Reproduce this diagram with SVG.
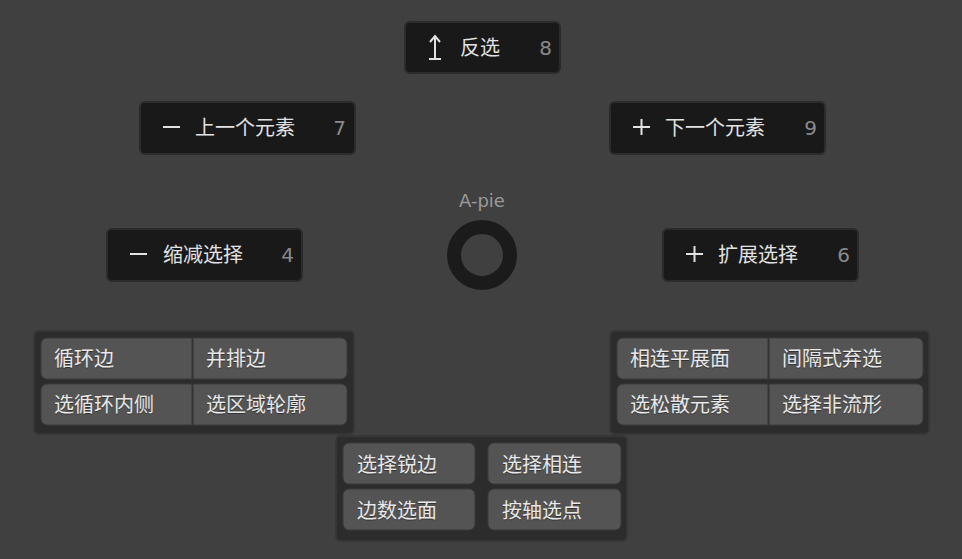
<svg xmlns="http://www.w3.org/2000/svg" width="962" height="559" viewBox="0 0 962 559">
<defs>
<style>
.bg{fill:#404040}
.pb{fill:#191919;stroke:#2b2b2b;stroke-width:2}
.lbl{font-family:"DejaVu Sans","Noto Sans CJK SC",sans-serif;font-size:20px;fill:#e2e2e2}
.num{font-family:"DejaVu Sans","Noto Sans CJK SC",sans-serif;font-size:20px;fill:#8a8a8a;text-anchor:end}
.ico{stroke:#e2e2e2;stroke-width:2;fill:none}
.panel{fill:#2c2c2c;stroke:#363636;stroke-width:2}
.btn{fill:#545454;stroke:#3a3a3a;stroke-width:1}
.sep{stroke:#333;stroke-width:2}
.bt{font-family:"DejaVu Sans","Noto Sans CJK SC",sans-serif;font-size:20px;fill:#e8e8e8}
.sh{font-family:"DejaVu Sans","Noto Sans CJK SC",sans-serif;font-size:20px;fill:#1c1c1c;opacity:.6}
</style>
</defs>
<rect class="bg" x="0" y="0" width="962" height="559"/>
<g id="connectors"/>

<g id="center">
<text x="482" y="207" text-anchor="middle" style="font-family:'DejaVu Sans',sans-serif;font-size:18px;fill:#9a9a9a">A-pie</text>
<circle cx="482" cy="255" r="28" fill="none" stroke="#1b1b1b" stroke-width="14"/>
</g>

<g id="n-invert">
<rect class="pb" x="405" y="22" width="155" height="51" rx="5"/>
<path class="ico" d="M435 37 V59 M429 59 H441 M430 42 L435 36 L440 42"/>
<text class="lbl" x="460" y="55">反选</text>
<text class="num" x="552" y="55">8</text>
</g>

<g id="n-prev">
<rect class="pb" x="140" y="102" width="215" height="52" rx="5"/>
<path class="ico" d="M163 127 H180"/>
<text class="lbl" x="195" y="135">上一个元素</text>
<text class="num" x="346" y="135">7</text>
</g>

<g id="n-next">
<rect class="pb" x="610" y="102" width="215" height="52" rx="5"/>
<path class="ico" d="M633 127 H650 M641.5 119 V135"/>
<text class="lbl" x="665" y="135">下一个元素</text>
<text class="num" x="817" y="135">9</text>
</g>

<g id="n-shrink">
<rect class="pb" x="107" y="229" width="195" height="52" rx="5"/>
<path class="ico" d="M130 254 H147"/>
<text class="lbl" x="163" y="262">缩减选择</text>
<text class="num" x="294" y="262">4</text>
</g>

<g id="n-grow">
<rect class="pb" x="663" y="229" width="195" height="52" rx="5"/>
<path class="ico" d="M686 254 H703 M694.5 246 V262"/>
<text class="lbl" x="718" y="262">扩展选择</text>
<text class="num" x="850" y="262">6</text>
</g>

<g id="n-left-panel">
<rect class="panel" x="34" y="331" width="320" height="103" rx="5"/>
<rect class="btn" x="41" y="338" width="306" height="41" rx="6"/>
<rect class="btn" x="41" y="384" width="306" height="41" rx="6"/>
<line class="sep" x1="192.5" y1="338" x2="192.5" y2="379"/>
<line class="sep" x1="192.5" y1="384" x2="192.5" y2="425"/>
<text class="sh" x="54" y="367">循环边</text><text class="bt" x="54" y="366">循环边</text>
<text class="sh" x="206" y="367">并排边</text><text class="bt" x="206" y="366">并排边</text>
<text class="sh" x="54" y="413">选循环内侧</text><text class="bt" x="54" y="412">选循环内侧</text>
<text class="sh" x="206" y="413">选区域轮廓</text><text class="bt" x="206" y="412">选区域轮廓</text>
</g>

<g id="n-right-panel">
<rect class="panel" x="610" y="331" width="319" height="103" rx="5"/>
<rect class="btn" x="617" y="338" width="306" height="41" rx="6"/>
<rect class="btn" x="617" y="384" width="306" height="41" rx="6"/>
<line class="sep" x1="768.5" y1="338" x2="768.5" y2="379"/>
<line class="sep" x1="768.5" y1="384" x2="768.5" y2="425"/>
<text class="sh" x="630" y="367">相连平展面</text><text class="bt" x="630" y="366">相连平展面</text>
<text class="sh" x="782" y="367">间隔式弃选</text><text class="bt" x="782" y="366">间隔式弃选</text>
<text class="sh" x="630" y="413">选松散元素</text><text class="bt" x="630" y="412">选松散元素</text>
<text class="sh" x="782" y="413">选择非流形</text><text class="bt" x="782" y="412">选择非流形</text>
</g>

<g id="n-bottom-panel">
<rect class="panel" x="336" y="436" width="291" height="105" rx="5"/>
<rect class="btn" x="343" y="443" width="132" height="41" rx="6"/>
<rect class="btn" x="488" y="443" width="133" height="41" rx="6"/>
<rect class="btn" x="343" y="489" width="132" height="41" rx="6"/>
<rect class="btn" x="488" y="489" width="133" height="41" rx="6"/>
<text class="sh" x="357" y="473">选择锐边</text><text class="bt" x="357" y="472">选择锐边</text>
<text class="sh" x="502" y="473">选择相连</text><text class="bt" x="502" y="472">选择相连</text>
<text class="sh" x="357" y="519">边数选面</text><text class="bt" x="357" y="518">边数选面</text>
<text class="sh" x="502" y="519">按轴选点</text><text class="bt" x="502" y="518">按轴选点</text>
</g>
</svg>
